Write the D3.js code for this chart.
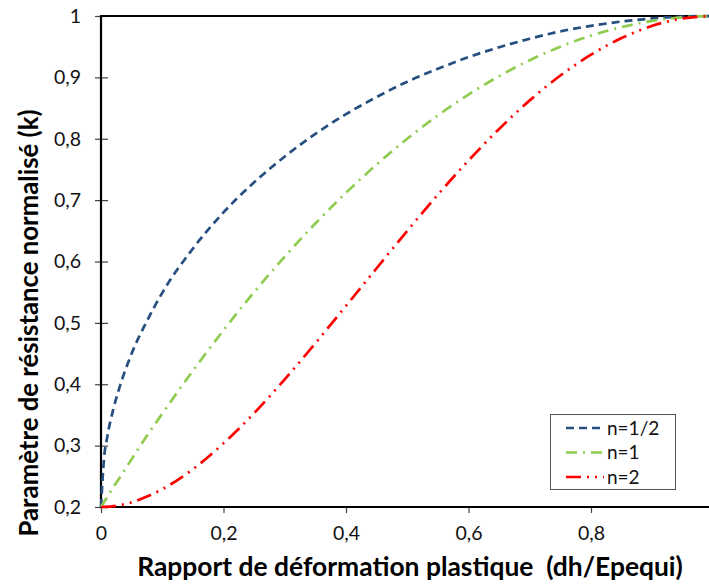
<!DOCTYPE html>
<html><head><meta charset="utf-8">
<script src="https://cdn.jsdelivr.net/npm/d3@7"></script>
<style>body{margin:0;background:#fff;} svg{display:block;}</style>
</head><body>
<svg id="c" width="709" height="586"></svg>
<script>
const xVals = [0,0.005,0.01,0.02,0.03,0.05,0.075,0.1,0.15,0.2,0.25,0.3,0.35,0.4,0.45,0.5,0.55,0.6,0.65,0.7,0.75,0.8,0.85,0.9,0.95,1];
const kHalf = [0.2,0.28,0.313,0.359,0.394,0.45,0.503,0.549,0.621,0.68,0.729,0.771,0.808,0.84,0.868,0.893,0.914,0.933,0.949,0.963,0.975,0.984,0.991,0.996,0.999,1];
const kOne  = [0.2,0.208,0.216,0.232,0.247,0.278,0.316,0.352,0.422,0.488,0.55,0.608,0.662,0.712,0.758,0.8,0.838,0.872,0.902,0.928,0.95,0.968,0.982,0.992,0.998,1];
const kTwo  = [0.2,0.2001,0.2003,0.2013,0.2028,0.2076,0.217,0.229,0.2616,0.3037,0.353,0.408,0.4668,0.5277,0.589,0.65,0.709,0.7645,0.816,0.8625,0.903,0.937,0.964,0.984,0.996,1];
const seriesNames = ["n=1/2","n=1","n=2"];
const xTicks = [0,0.2,0.4,0.6,0.8,1];
const yTicks = [0.2,0.3,0.4,0.5,0.6,0.7,0.8,0.9,1];

const svg = d3.select("#c");
const font = "Lato, 'Open Sans', sans-serif";
const L = 101, R = 713.5, T = 16, B = 507;
const x = d3.scaleLinear().domain([0,1]).range([L,R]);
const y = d3.scaleLinear().domain([0.2,1]).range([B,T]);
const fmt = d => d3.format("")(d).replace(".", ",");

// axes
const yAxis = svg.append("g").attr("transform",`translate(${L},0)`)
  .call(d3.axisLeft(y).tickValues(yTicks).tickFormat(fmt).tickSize(6).tickPadding(14));
const xAxis = svg.append("g").attr("transform",`translate(0,${B})`)
  .call(d3.axisBottom(x).tickValues(xTicks).tickFormat(fmt).tickSize(6).tickPadding(13));
[yAxis,xAxis].forEach(g=>{
  g.select(".domain").remove();
  g.selectAll(".tick line").attr("stroke","#444").attr("stroke-width",1.2);
  g.selectAll("text").attr("font-family",font).attr("font-size",19.5).attr("fill","#111");
});
yAxis.selectAll(".tick line").attr("x1",7).attr("x2",-6);
// frame lines
svg.append("line").attr("x1",L).attr("x2",L).attr("y1",T-1).attr("y2",B+1).attr("stroke","#000").attr("stroke-width",2.2);
svg.append("line").attr("x1",L).attr("x2",R).attr("y1",T).attr("y2",T).attr("stroke","#000").attr("stroke-width",2.2);
svg.append("line").attr("x1",L).attr("x2",R).attr("y1",B).attr("y2",B).attr("stroke","#000").attr("stroke-width",2.2);

// series
const colors = ["#264f80","#8fcc50","#ff0000"];
const dashes = ["8,5","11,6,2,6","15,6,2,6,2,6"];
const data = [kHalf,kOne,kTwo];
const line = d3.line().x((d,i)=>x(xVals[i])).y(d=>y(d)).curve(d3.curveMonotoneX);
data.forEach((s,j)=>{
  svg.append("path").datum(s).attr("d",line).attr("fill","none")
    .attr("stroke",colors[j]).attr("stroke-width",2.7).attr("stroke-dasharray",dashes[j]);
});

// legend
const lg = svg.append("g");
lg.append("rect").attr("x",550.5).attr("y",414.5).attr("width",125).attr("height",75)
  .attr("fill","#fff").attr("stroke","#555").attr("stroke-width",1);
seriesNames.forEach((n,j)=>{
  const yy = 428 + j*24.5;
  lg.append("line").attr("x1",566).attr("x2",604).attr("y1",yy).attr("y2",yy)
    .attr("stroke",colors[j]).attr("stroke-width",2.7).attr("stroke-dasharray",dashes[j]);
  lg.append("text").attr("x",607).attr("y",yy+6.5).text(n)
    .attr("font-family",font).attr("font-size",19).attr("fill","#111");
});

// titles, fitted to the reference's extents
function fit(t, w){
  let fs = 20; t.attr("font-size",fs);
  const len = t.node().getComputedTextLength();
  t.attr("font-size", fs * w / len);
}
const xt = svg.append("text").attr("x",410).attr("y",576).attr("text-anchor","middle")
  .attr("font-family",font).attr("font-weight","bold").attr("fill","#000").attr("xml:space","preserve")
  .style("white-space","pre")
  .text("Rapport de déformation plastique  (dh/Epequi)");
fit(xt, 546);
const yt = svg.append("text").attr("transform","translate(38,323) rotate(-90)").attr("text-anchor","middle")
  .attr("font-family",font).attr("font-weight","bold").attr("fill","#000")
  .text("Paramètre de résistance normalisé (k)");
fit(yt, 427);
</script>
</body></html>
